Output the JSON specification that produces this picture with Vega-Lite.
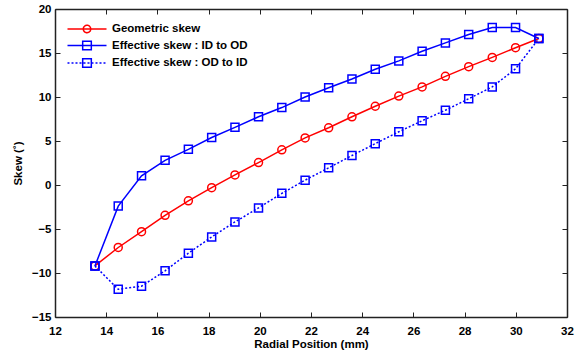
{
  "$schema": "https://vega.github.io/schema/vega-lite/v6.json",
  "width": 512,
  "height": 308,
  "autosize": {"type": "none"},
  "padding": {"left": 55, "top": 9, "right": 18, "bottom": 39},
  "background": "white",
  "config": {
    "view": {"stroke": null},
    "font": "Liberation Sans",
    "axis": {
      "domainColor": "#222222",
      "domainWidth": 1.5,
      "tickColor": "#222222",
      "tickWidth": 1,
      "tickSize": -5,
      "labelFont": "Liberation Sans",
      "labelFontWeight": "bold",
      "labelFontSize": 11.5,
      "labelColor": "#000000",
      "titleFont": "Liberation Sans",
      "titleFontWeight": "bold",
      "titleFontSize": 11.5,
      "titleColor": "#000000",
      "grid": false,
      "labelFlush": false,
      "labelOverlap": false
    }
  },
  "data": {
    "values": [
      {"x": 13.56, "y": -9.2, "series": "Geometric skew"},
      {"x": 14.47, "y": -7.1, "series": "Geometric skew"},
      {"x": 15.38, "y": -5.3, "series": "Geometric skew"},
      {"x": 16.30, "y": -3.45, "series": "Geometric skew"},
      {"x": 17.21, "y": -1.8, "series": "Geometric skew"},
      {"x": 18.12, "y": -0.3, "series": "Geometric skew"},
      {"x": 19.03, "y": 1.15, "series": "Geometric skew"},
      {"x": 19.95, "y": 2.55, "series": "Geometric skew"},
      {"x": 20.86, "y": 4.0, "series": "Geometric skew"},
      {"x": 21.77, "y": 5.35, "series": "Geometric skew"},
      {"x": 22.69, "y": 6.5, "series": "Geometric skew"},
      {"x": 23.60, "y": 7.75, "series": "Geometric skew"},
      {"x": 24.51, "y": 8.95, "series": "Geometric skew"},
      {"x": 25.43, "y": 10.1, "series": "Geometric skew"},
      {"x": 26.34, "y": 11.15, "series": "Geometric skew"},
      {"x": 27.25, "y": 12.35, "series": "Geometric skew"},
      {"x": 28.16, "y": 13.45, "series": "Geometric skew"},
      {"x": 29.08, "y": 14.5, "series": "Geometric skew"},
      {"x": 29.99, "y": 15.6, "series": "Geometric skew"},
      {"x": 30.90, "y": 16.65, "series": "Geometric skew"},
      {"x": 13.56, "y": -9.2, "series": "Effective skew : ID to OD"},
      {"x": 14.47, "y": -2.4, "series": "Effective skew : ID to OD"},
      {"x": 15.38, "y": 1.05, "series": "Effective skew : ID to OD"},
      {"x": 16.30, "y": 2.8, "series": "Effective skew : ID to OD"},
      {"x": 17.21, "y": 4.05, "series": "Effective skew : ID to OD"},
      {"x": 18.12, "y": 5.4, "series": "Effective skew : ID to OD"},
      {"x": 19.03, "y": 6.55, "series": "Effective skew : ID to OD"},
      {"x": 19.95, "y": 7.75, "series": "Effective skew : ID to OD"},
      {"x": 20.86, "y": 8.8, "series": "Effective skew : ID to OD"},
      {"x": 21.77, "y": 10.0, "series": "Effective skew : ID to OD"},
      {"x": 22.69, "y": 11.05, "series": "Effective skew : ID to OD"},
      {"x": 23.60, "y": 12.05, "series": "Effective skew : ID to OD"},
      {"x": 24.51, "y": 13.15, "series": "Effective skew : ID to OD"},
      {"x": 25.43, "y": 14.1, "series": "Effective skew : ID to OD"},
      {"x": 26.34, "y": 15.2, "series": "Effective skew : ID to OD"},
      {"x": 27.25, "y": 16.15, "series": "Effective skew : ID to OD"},
      {"x": 28.16, "y": 17.1, "series": "Effective skew : ID to OD"},
      {"x": 29.08, "y": 17.9, "series": "Effective skew : ID to OD"},
      {"x": 29.99, "y": 17.9, "series": "Effective skew : ID to OD"},
      {"x": 30.90, "y": 16.65, "series": "Effective skew : ID to OD"},
      {"x": 13.56, "y": -9.2, "series": "Effective skew : OD to ID"},
      {"x": 14.47, "y": -11.85, "series": "Effective skew : OD to ID"},
      {"x": 15.38, "y": -11.5, "series": "Effective skew : OD to ID"},
      {"x": 16.30, "y": -9.75, "series": "Effective skew : OD to ID"},
      {"x": 17.21, "y": -7.75, "series": "Effective skew : OD to ID"},
      {"x": 18.12, "y": -5.9, "series": "Effective skew : OD to ID"},
      {"x": 19.03, "y": -4.2, "series": "Effective skew : OD to ID"},
      {"x": 19.95, "y": -2.6, "series": "Effective skew : OD to ID"},
      {"x": 20.86, "y": -0.95, "series": "Effective skew : OD to ID"},
      {"x": 21.77, "y": 0.55, "series": "Effective skew : OD to ID"},
      {"x": 22.69, "y": 1.95, "series": "Effective skew : OD to ID"},
      {"x": 23.60, "y": 3.35, "series": "Effective skew : OD to ID"},
      {"x": 24.51, "y": 4.7, "series": "Effective skew : OD to ID"},
      {"x": 25.43, "y": 6.05, "series": "Effective skew : OD to ID"},
      {"x": 26.34, "y": 7.3, "series": "Effective skew : OD to ID"},
      {"x": 27.25, "y": 8.5, "series": "Effective skew : OD to ID"},
      {"x": 28.16, "y": 9.8, "series": "Effective skew : OD to ID"},
      {"x": 29.08, "y": 11.15, "series": "Effective skew : OD to ID"},
      {"x": 29.99, "y": 13.2, "series": "Effective skew : OD to ID"},
      {"x": 30.90, "y": 16.65, "series": "Effective skew : OD to ID"}
    ]
  },
  "layer": [
    {
      "transform": [{"filter": "datum.series !== 'Effective skew : OD to ID'"}],
      "mark": {"type": "line", "strokeWidth": 1.5},
      "encoding": {
        "x": {"field": "x", "type": "quantitative", "scale": {"domain": [12, 32], "nice": false, "zero": false},
              "axis": {"orient": "bottom", "values": [12,14,16,18,20,22,24,26,28,30,32], "title": "Radial Position (mm)", "labelPadding": 13, "titlePadding": 2}},
        "y": {"field": "y", "type": "quantitative", "scale": {"domain": [-15, 20], "nice": false, "zero": false},
              "axis": {"orient": "left", "values": [-15,-10,-5,0,5,10,15,20], "title": "Skew (˚)", "labelPadding": 9, "titlePadding": 8}},
        "color": {"field": "series", "type": "nominal",
                  "scale": {"domain": ["Geometric skew", "Effective skew : ID to OD", "Effective skew : OD to ID"], "range": ["#ff0000", "#0000ff", "#0000ff"]},
                  "legend": {
                    "title": null, "orient": "none", "legendX": 25, "legendY": 13,
                    "labelFont": "Liberation Sans", "labelFontWeight": "bold", "labelFontSize": 11.5, "labelColor": "#000000",
                    "symbolSize": 144, "symbolStrokeWidth": 1.5, "labelOffset": 18, "rowPadding": 1.5,
                    "encode": {"symbols": {"update": {
                      "shape": {"signal": "datum.value === 'Geometric skew' ? 'M-3.25,0H3.25M0.62,0A0.62,0.62 0 1,0 -0.62,0A0.62,0.62 0 1,0 0.62,0' : (datum.value === 'Effective skew : ID to OD' ? 'M-3.25,0H3.25M-0.72,-0.72H0.72V0.72H-0.72Z' : 'M-3.25,0H-2.92M-2.58,0H-2.25M-1.92,0H-1.58M-1.25,0H-0.92M-0.58,0H-0.25M0.08,0H0.42M0.75,0H1.08M1.42,0H1.75M2.08,0H2.42M2.75,0H3.08M-0.72,-0.72H0.72V0.72H-0.72Z')"},
                      "strokeDash": {"value": [1, 0]},
                      "fill": {"value": "transparent"},
                      "strokeWidth": {"value": 1.5}
                    }}}
                  }}
      }
    },
    {
      "transform": [{"filter": "datum.series === 'Effective skew : OD to ID'"}],
      "mark": {"type": "line", "strokeWidth": 1.5, "strokeDash": [2, 2]},
      "encoding": {
        "x": {"field": "x", "type": "quantitative", "axis": null},
        "y": {"field": "y", "type": "quantitative", "axis": null},
        "color": {"field": "series", "type": "nominal"}
      }
    },
    {
      "transform": [{"filter": "datum.series === 'Geometric skew'"}],
      "mark": {"type": "point", "shape": "circle", "filled": false, "strokeWidth": 1.5, "opacity": 1, "size": 64},
      "encoding": {
        "x": {"field": "x", "type": "quantitative", "axis": null},
        "y": {"field": "y", "type": "quantitative", "axis": null},
        "color": {"field": "series", "type": "nominal"}
      }
    },
    {
      "transform": [{"filter": "datum.series !== 'Geometric skew'"}],
      "mark": {"type": "point", "shape": "square", "filled": false, "strokeWidth": 1.5, "opacity": 1, "size": 64},
      "encoding": {
        "x": {"field": "x", "type": "quantitative", "axis": {"orient": "top", "values": [12,14,16,18,20,22,24,26,28,30,32], "labels": false, "title": null}},
        "y": {"field": "y", "type": "quantitative", "axis": {"orient": "right", "values": [-15,-10,-5,0,5,10,15,20], "labels": false, "title": null}},
        "color": {"field": "series", "type": "nominal"}
      }
    }
  ],
  "resolve": {"axis": {"x": "independent", "y": "independent"}}
}
